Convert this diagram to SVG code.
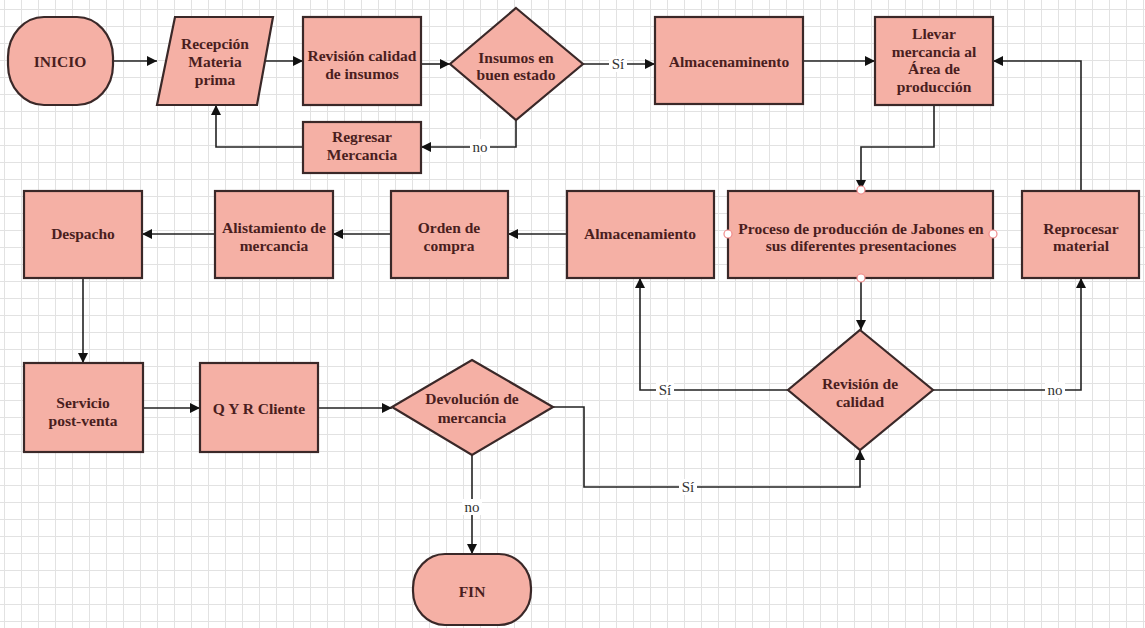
<svg xmlns="http://www.w3.org/2000/svg" width="1145" height="628" viewBox="0 0 1145 628">
<defs>
<pattern id="grid" x="4" y="9" width="17" height="17" patternUnits="userSpaceOnUse">
<path d="M0 0.5H17M0.5 0V17" fill="none" stroke="#e2e2e2" stroke-width="1"/>
</pattern>
<marker id="arr" viewBox="0 0 10 10" refX="10" refY="5" markerWidth="10" markerHeight="10" markerUnits="userSpaceOnUse" orient="auto">
<path d="M0 0L10 5L0 10Z" fill="#111"/>
</marker>
<style>
.s{fill:#f5b0a5;stroke:#3a2828;stroke-width:2.2}
.t{font-family:"Liberation Serif",serif;font-weight:bold;font-size:15.5px;fill:#4a1e1e;text-anchor:middle;dominant-baseline:central}
.c{fill:none;stroke:#222;stroke-width:1.6;marker-end:url(#arr)}
.lb{font-family:"Liberation Serif",serif;font-size:15px;fill:#333;text-anchor:middle;dominant-baseline:central}
.bg{fill:#ffffff}
.h{fill:#ffffff;stroke:#f08a8a;stroke-width:1.2}
</style>
</defs>
<rect width="1145" height="628" fill="#ffffff"/>
<rect width="1145" height="628" fill="url(#grid)"/>

<g id="connectors">
<path class="c" d="M113 61H157"/>
<path class="c" d="M265 61H303"/>
<path class="c" d="M421 64H450"/>
<path class="c" d="M583 64H655"/>
<path class="c" d="M516 120V147H421"/>
<path class="c" d="M303 147H216V105"/>
<path class="c" d="M803 61H875"/>
<path class="c" d="M934 105V147H861V190"/>
<path class="c" d="M1081 191V61H993"/>
<path class="c" d="M567 234H508"/>
<path class="c" d="M391 234H333"/>
<path class="c" d="M215 234H142"/>
<path class="c" d="M861 278V330"/>
<path class="c" d="M788 390H640V278"/>
<path class="c" d="M933 390H1081V278"/>
<path class="c" d="M83 278V363"/>
<path class="c" d="M143 408H200"/>
<path class="c" d="M318 408H392"/>
<path class="c" d="M553 407H584V487H860V450"/>
<path class="c" d="M472 455V554"/>
<rect class="bg" x="609" y="56" width="18" height="16"/>
<text class="lb" x="618" y="64">Sí</text>
<rect class="bg" x="470" y="139" width="20" height="16"/>
<text class="lb" x="480" y="147">no</text>
<rect class="bg" x="656" y="382" width="18" height="16"/>
<text class="lb" x="665" y="390">Sí</text>
<rect class="bg" x="1045" y="382" width="20" height="16"/>
<text class="lb" x="1055" y="390">no</text>
<rect class="bg" x="679" y="479" width="18" height="16"/>
<text class="lb" x="688" y="487">Sí</text>
<rect class="bg" x="462" y="499" width="20" height="16"/>
<text class="lb" x="472" y="507">no</text>
</g>

<g id="inicio">
<rect class="s" x="8" y="17" width="105" height="88" rx="36" ry="40"/>
<text class="t" x="60" y="61">INICIO</text>
</g>
<g id="recepcion">
<polygon class="s" points="175,17 273,17 257,105 157,105"/>
<text class="t" x="215" y="43">Recepción</text>
<text class="t" x="215" y="61">Materia</text>
<text class="t" x="215" y="79">prima</text>
</g>
<g id="revision-insumos">
<rect class="s" x="303" y="17" width="118" height="88"/>
<text class="t" x="362" y="55">Revisión calidad</text>
<text class="t" x="362" y="73">de insumos</text>
</g>
<g id="insumos-estado">
<polygon class="s" points="516,8 583,64 516,120 450,64"/>
<text class="t" x="516" y="57">Insumos en</text>
<text class="t" x="516" y="74">buen estado</text>
</g>
<g id="regresar">
<rect class="s" x="303" y="122" width="118" height="51"/>
<text class="t" x="362" y="136">Regresar</text>
<text class="t" x="362" y="154">Mercancia</text>
</g>
<g id="almacenaminento">
<rect class="s" x="655" y="17" width="148" height="87"/>
<text class="t" x="729" y="61">Almacenaminento</text>
</g>
<g id="llevar">
<rect class="s" x="875" y="17" width="118" height="88"/>
<text class="t" x="934" y="33">Llevar</text>
<text class="t" x="934" y="51">mercancia al</text>
<text class="t" x="934" y="68">Área de</text>
<text class="t" x="934" y="86">producción</text>
</g>
<g id="despacho">
<rect class="s" x="24" y="191" width="118" height="87"/>
<text class="t" x="83" y="233">Despacho</text>
</g>
<g id="alistamiento">
<rect class="s" x="215" y="191" width="118" height="87"/>
<text class="t" x="274" y="227">Alistamiento de</text>
<text class="t" x="274" y="245">mercancia</text>
</g>
<g id="orden">
<rect class="s" x="391" y="191" width="117" height="87"/>
<text class="t" x="449" y="227">Orden de</text>
<text class="t" x="449" y="245">compra</text>
</g>
<g id="almacenamiento">
<rect class="s" x="567" y="191" width="147" height="87"/>
<text class="t" x="640" y="233">Almacenamiento</text>
</g>
<g id="proceso">
<rect class="s" x="728" y="191" width="265" height="87"/>
<text class="t" x="861" y="228">Proceso de producción de Jabones en</text>
<text class="t" x="861" y="245">sus diferentes presentaciones</text>
<circle class="h" cx="861" cy="190" r="4"/>
<circle class="h" cx="728" cy="234" r="4"/>
<circle class="h" cx="993" cy="234" r="4"/>
<circle class="h" cx="861" cy="278" r="4"/>
</g>
<g id="reprocesar">
<rect class="s" x="1022" y="191" width="117" height="87"/>
<text class="t" x="1081" y="228">Reprocesar</text>
<text class="t" x="1081" y="245">material</text>
</g>
<g id="revision-calidad">
<polygon class="s" points="860,330 933,390 860,450 788,390"/>
<text class="t" x="860" y="383">Revisión de</text>
<text class="t" x="860" y="401">calidad</text>
</g>
<g id="servicio">
<rect class="s" x="24" y="363" width="119" height="89"/>
<text class="t" x="83" y="402">Servicio</text>
<text class="t" x="83" y="420">post-venta</text>
</g>
<g id="qyr">
<rect class="s" x="200" y="363" width="118" height="89"/>
<text class="t" x="259" y="408">Q Y R Cliente</text>
</g>
<g id="devolucion">
<polygon class="s" points="472,360 553,407 472,455 392,407"/>
<text class="t" x="472" y="398">Devolución de</text>
<text class="t" x="472" y="417">mercancia</text>
</g>
<g id="fin">
<rect class="s" x="413" y="554" width="118" height="71" rx="32" ry="34"/>
<text class="t" x="472" y="591">FIN</text>
</g>
</svg>
